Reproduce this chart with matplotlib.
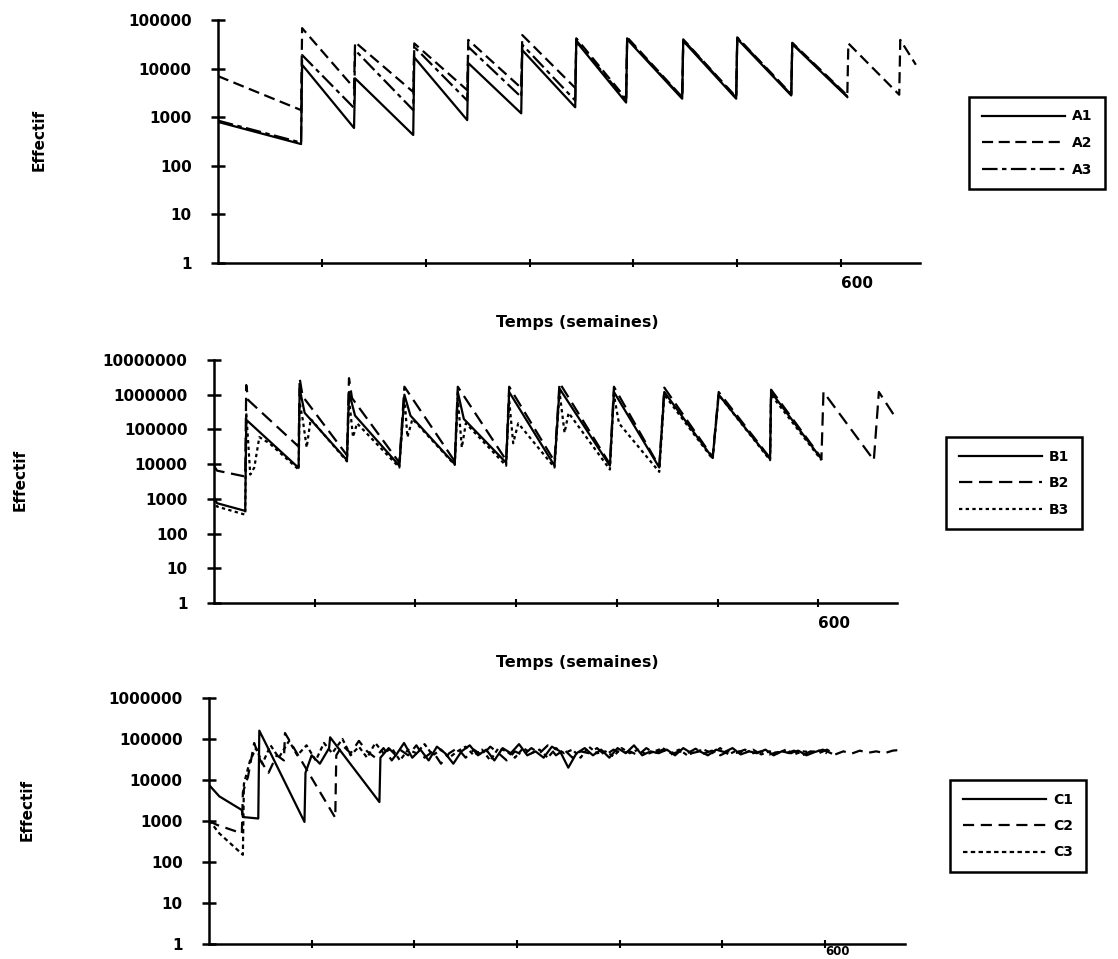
import matplotlib
matplotlib.use("Agg")
import matplotlib.pyplot as plt
from matplotlib.ticker import FixedLocator, FixedFormatter, NullLocator

plt.rcParams['font.family'] = ['DejaVu Sans']
plt.rcParams['font.weight'] = 'bold'

# ---------------- data ----------------
x_ticks = [100, 200, 300, 400, 500, 600]
x_tick_labels = ['', '', '', '', '', '600']

y_ticks_A = [1, 10, 100, 1000, 10000, 100000]
y_labels_A = ['1', '10', '100', '1000', '10000', '100000']
y_ticks_B = [1, 10, 100, 1000, 10000, 100000, 1000000, 10000000]
y_labels_B = ['1', '10', '100', '1000', '10000', '100000', '1000000', '10000000']
y_ticks_C = [1, 10, 100, 1000, 10000, 100000, 1000000]
y_labels_C = ['1', '10', '100', '1000', '10000', '100000', '1000000']

series_A = ['A1', 'A2', 'A3']
series_B = ['B1', 'B2', 'B3']
series_C = ['C1', 'C2', 'C3']

weeks_A1 = [0, 80, 81, 131, 132, 188, 189, 240, 241, 292, 293, 344, 345, 393, 394,
            447, 448, 499, 500, 552, 553, 606]
eff_A1 = [800, 280, 12000, 600, 6300, 430, 17000, 870, 13000, 1200, 24000, 1600, 36000,
          2000, 40000, 2400, 37000, 2400, 41000, 2800, 32000, 2600]

weeks_A2 = [0, 80, 81, 131, 132, 188, 189, 240, 241, 292, 293, 344, 345, 393, 394,
            447, 448, 499, 500, 552, 553, 606, 607, 656, 657, 672]
eff_A2 = [7000, 1400, 68000, 4000, 35000, 3300, 33000, 3600, 39000, 4000, 49000, 4000,
          42000, 2400, 44000, 2600, 40000, 2600, 44000, 3000, 34000, 2800, 33000, 2900,
          39000, 12000]

weeks_A3 = [0, 80, 81, 131, 132, 188, 189, 240, 241, 292, 293, 344, 345, 393, 394,
            447, 448, 499, 500, 552, 553, 606]
eff_A3 = [850, 300, 19000, 1550, 24000, 1400, 28000, 2200, 28000, 2600, 31000, 2200,
          38000, 2200, 42000, 2500, 39000, 2500, 43000, 2900, 33000, 2700]

weeks_B1 = [0, 3, 31, 32, 84, 85, 90, 132, 134, 140, 184, 189, 195, 239, 242, 248,
            290, 293, 338, 343, 393, 397, 442, 447, 495, 501, 552, 553, 603]
eff_B1 = [1100, 750, 450, 190000, 7800, 1.5e6, 300000, 13000, 1.2e6, 250000, 9000,
          1.0e6, 250000, 10000, 1.2e6, 200000, 11000, 1.2e6, 9000, 1.5e6, 9000, 1.2e6,
          8000, 1.2e6, 15000, 1.0e6, 14000, 1.2e6, 14000]

weeks_B2 = [0, 3, 31, 32, 34, 84, 85, 88, 132, 134, 137, 184, 189, 239, 242, 290, 293,
            338, 343, 393, 397, 442, 447, 495, 501, 552, 553, 603, 605, 655, 660, 677]
eff_B2 = [9000, 6500, 4400, 1.9e6, 700000, 32000, 3e6, 900000, 18000, 3e6, 800000,
          11000, 1.7e6, 12000, 1.7e6, 13000, 1.7e6, 12000, 2.2e6, 10000, 1.7e6, 8500,
          1.6e6, 16000, 1.2e6, 15000, 1.4e6, 15000, 1.2e6, 13000, 1.2e6, 210000]

weeks_B3 = [0, 3, 31, 32, 34, 36, 40, 45, 55, 84, 85, 88, 92, 96, 132, 134, 138, 142,
            184, 189, 192, 197, 239, 242, 246, 250, 290, 293, 297, 302, 338, 343, 348,
            352, 393, 397, 402, 442, 447, 495, 501, 552, 553, 603]
eff_B3 = [1000, 600, 350, 300000, 40000, 5000, 8000, 60000, 40000, 7000, 600000, 200000,
          30000, 200000, 12000, 800000, 60000, 150000, 8000, 900000, 60000, 200000, 9500,
          800000, 30000, 150000, 9000, 700000, 40000, 150000, 8000, 1.2e6, 80000, 300000,
          7000, 1.0e6, 150000, 6000, 1.0e6, 14000, 1.0e6, 13000, 1.0e6, 13000]

weeks_C1 = [0, 10, 32, 33, 48, 49, 60, 93, 94, 100, 108, 117, 118, 166, 167,
            175, 182, 190, 198, 206, 214, 222, 230, 238, 246, 254, 262, 270, 278, 286,
            294, 302, 310, 318, 326, 334, 342, 350, 358, 366, 374, 382, 390, 398, 406,
            414, 422, 430, 438, 446, 454, 462, 470, 478, 486, 494, 502, 510, 518, 526,
            534, 542, 550, 558, 566, 574, 582, 590, 598, 606]
eff_C1 = [7600, 4000, 1850, 1250, 1150, 160000, 45000, 950, 15000, 40000, 25000, 60000,
          110000, 2900, 35000,
          60000, 40000, 80000, 35000, 55000, 30000, 65000, 45000, 25000, 50000,
          70000, 40000, 55000, 30000, 60000, 45000, 75000, 40000, 50000, 35000,
          65000, 50000, 20000, 45000, 60000, 40000, 55000, 35000, 60000, 45000,
          70000, 40000, 50000, 45000, 55000, 40000, 60000, 45000, 50000, 40000,
          55000, 48000, 60000, 42000, 50000, 45000, 55000, 40000, 50000, 45000,
          52000, 40000, 48000, 55000, 45000]

weeks_C2 = [0, 8, 32, 33, 38, 44, 50, 58, 66, 73, 74, 123, 124,
            130, 138, 146, 154, 162, 170, 178, 186, 194, 202, 210, 218, 226,
            234, 242, 250, 258, 266, 274, 282, 290, 298, 306, 314, 322, 330,
            338, 346, 354, 362, 370, 378, 386, 394, 402, 410, 418, 426, 434,
            442, 450, 458, 466, 474, 482, 490, 498, 506, 514, 522, 530, 538,
            546, 554, 562, 570, 578, 586, 594, 602, 610, 618, 626, 634, 642,
            650, 658, 666, 676]
eff_C2 = [1000, 800, 500, 5000, 12000, 80000, 30000, 15000, 40000, 30000, 140000, 1200, 40000,
          70000, 45000, 90000, 50000, 35000, 60000, 30000, 55000, 40000, 70000, 35000, 50000, 25000,
          45000, 60000, 35000, 55000, 40000, 65000, 45000, 30000, 50000, 40000, 60000, 45000, 70000,
          40000, 55000, 35000, 50000, 45000, 60000, 40000, 55000, 45000, 50000, 40000, 60000, 45000,
          55000, 42000, 50000, 45000, 58000, 44000, 52000, 40000, 50000, 46000, 55000, 45000, 50000,
          42000, 48000, 45000, 52000, 40000, 50000, 45000, 55000, 42000, 50000, 44000, 52000, 46000,
          50000, 45000, 52000, 55000]

weeks_C3 = [0, 10, 33, 34, 40, 46, 52, 60, 68, 78, 86, 95, 104, 112, 120, 130, 138,
            146, 154, 162, 170, 178, 186, 194, 202, 210, 218, 226, 234, 242,
            250, 258, 266, 274, 282, 290, 298, 306, 314, 322, 330, 338, 346,
            354, 362, 370, 378, 386, 394, 402, 410, 418, 426, 434, 442, 450,
            458, 466, 474, 482, 490, 498, 506, 514, 522, 530, 538, 546, 554,
            562, 570, 578, 586, 594, 602]
eff_C3 = [1050, 500, 150, 8000, 30000, 60000, 25000, 70000, 35000, 90000, 40000, 70000,
          30000, 80000, 45000, 100000, 40000,
          65000, 35000, 80000, 45000, 60000, 30000, 55000, 45000, 75000, 40000, 55000, 35000, 50000,
          65000, 40000, 55000, 30000, 60000, 50000, 35000, 60000, 45000, 55000, 35000, 60000, 45000,
          55000, 35000, 65000, 45000, 50000, 38000, 60000, 45000, 55000, 42000, 50000, 60000, 45000,
          55000, 40000, 50000, 55000, 45000, 60000, 42000, 52000, 46000, 55000, 42000, 50000, 45000,
          55000, 42000, 50000, 48000, 52000, 45000]

# ---------------- figure ----------------
W, H = 1118, 959
fig = plt.figure(figsize=(W / 100, H / 100), dpi=100)


def rect(l, t, r, b):
    return [l / W, 1 - b / H, (r - l) / W, (b - t) / H]


def style(ax, xmax, ticks, labels, xpad=6, xsize=11):
    ax.set_yscale('log')
    ax.set_xlim(0, xmax)
    ax.set_ylim(ticks[0], ticks[-1])
    for s in ['top', 'right']:
        ax.spines[s].set_visible(False)
    for s in ['left', 'bottom']:
        ax.spines[s].set_linewidth(1.8)
    ax.yaxis.set_major_locator(FixedLocator(ticks))
    ax.yaxis.set_major_formatter(FixedFormatter(labels))
    ax.yaxis.set_minor_locator(NullLocator())
    ax.set_xticks(x_ticks)
    ax.set_xticklabels(x_tick_labels)
    ax.tick_params(axis='y', direction='inout', length=10, width=1.8, pad=14, labelsize=11)
    ax.tick_params(axis='x', direction='inout', length=6, width=1.5, pad=xpad, labelsize=xsize)
    for lbl in ax.get_xticklabels():
        lbl.set_horizontalalignment('left')
        lbl.set_fontweight('bold')
    for lbl in ax.get_yticklabels():
        lbl.set_fontweight('bold')
    ax.patch.set_alpha(0)


def add_legend(ax, cx, cy):
    leg = ax.legend(loc='center', bbox_to_anchor=(cx / W, 1 - cy / H),
                    bbox_transform=fig.transFigure, frameon=True, fancybox=False,
                    edgecolor='black', framealpha=1, handlelength=6, handletextpad=0.5,
                    borderpad=0.9, labelspacing=0.9,
                    prop={'weight': 'bold', 'size': 10})
    leg.get_frame().set_linewidth(1.8)
    return leg


lw = 1.6
styles = ['-', (0, (5, 2.5)), (0, (7, 2, 2, 2))]

# Panel A
axA = fig.add_axes(rect(218, 20, 920, 263))
axA.plot(weeks_A1, eff_A1, color='black', lw=lw, ls=styles[0], label=series_A[0])
axA.plot(weeks_A2, eff_A2, color='black', lw=lw, ls=styles[1], label=series_A[1])
axA.plot(weeks_A3, eff_A3, color='black', lw=lw, ls=styles[2], label=series_A[2])
style(axA, 676, y_ticks_A, y_labels_A)
add_legend(axA, 1037, 143)

# Panel B
axB = fig.add_axes(rect(214, 360, 897, 603))
axB.plot(weeks_B1, eff_B1, color='black', lw=lw, ls='-', label=series_B[0])
axB.plot(weeks_B2, eff_B2, color='black', lw=lw, ls=(0, (6, 3)), label=series_B[1])
axB.plot(weeks_B3, eff_B3, color='black', lw=lw, ls=(0, (1.5, 1.5)), label=series_B[2])
style(axB, 678, y_ticks_B, y_labels_B)
add_legend(axB, 1014, 483)

# Panel C
axC = fig.add_axes(rect(209, 698, 905, 944))
axC.plot(weeks_C1, eff_C1, color='black', lw=lw, ls='-', label=series_C[0])
axC.plot(weeks_C2, eff_C2, color='black', lw=lw, ls=(0, (5, 3)), label=series_C[1])
axC.plot(weeks_C3, eff_C3, color='black', lw=lw, ls=(0, (2, 1.5)), label=series_C[2])
style(axC, 678, y_ticks_C, y_labels_C, xpad=-2, xsize=8.5)
add_legend(axC, 1018, 826)

# axis titles
for (x, y) in [(39, 140), (20, 480), (27, 810)]:
    fig.text(x / W, 1 - y / H, 'Effectif', rotation=90, ha='center', va='center',
             fontsize=11, fontweight='bold')
for (x, y) in [(577, 322), (577, 662)]:
    fig.text(x / W, 1 - y / H, 'Temps (semaines)', ha='center', va='center',
             fontsize=11.5, fontweight='bold')

fig.savefig('out.png', dpi=100, facecolor='white')
